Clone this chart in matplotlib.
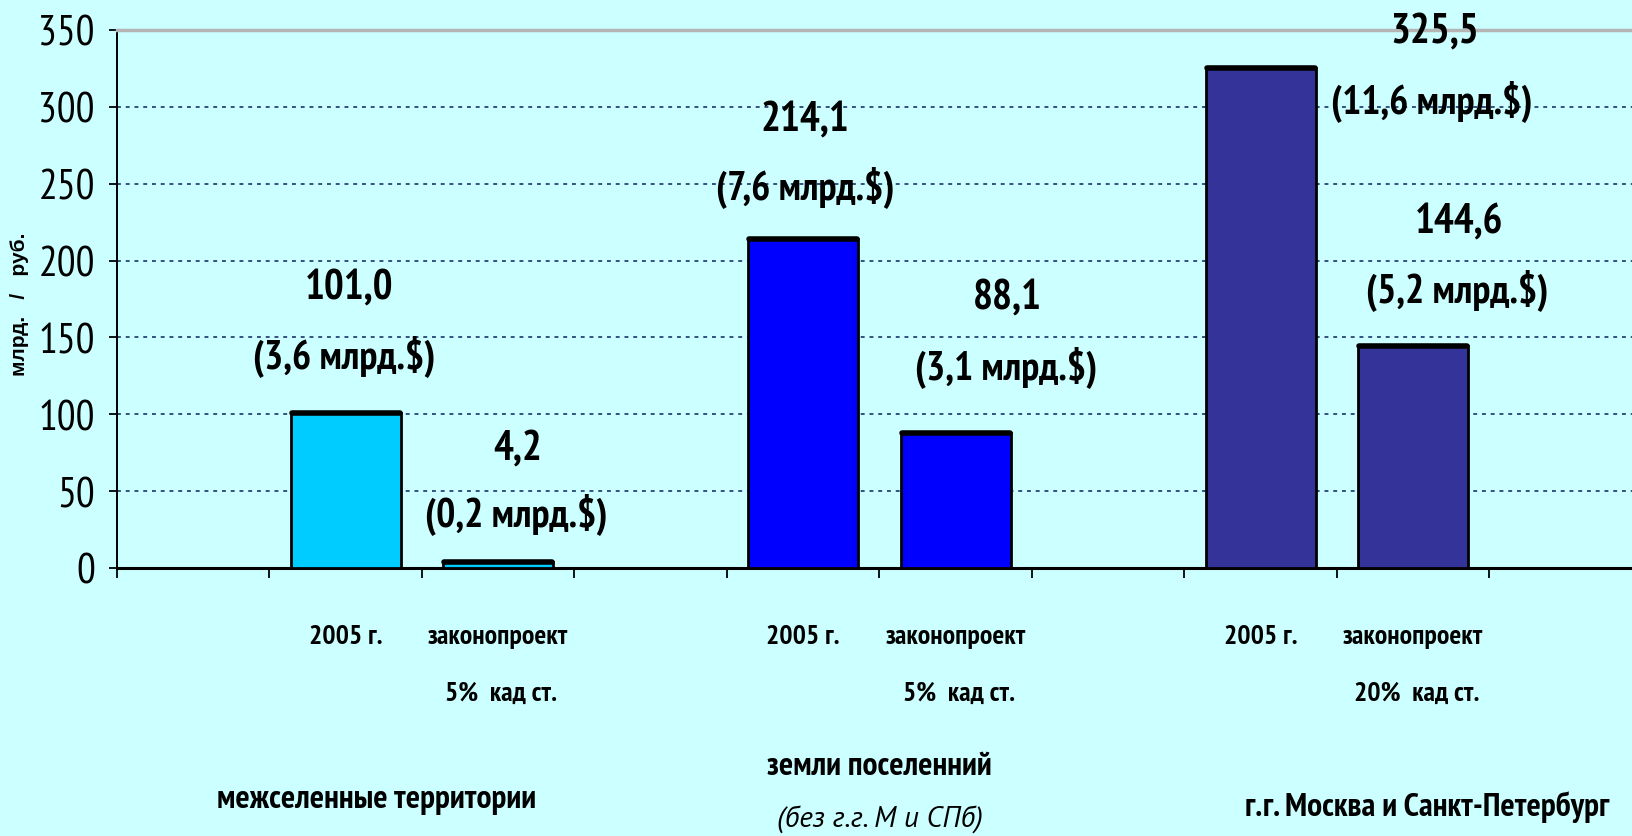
import numpy as np
import matplotlib
matplotlib.use("Agg")
import matplotlib.pyplot as plt

NARROW = ['PT Sans Narrow', 'Fira Sans Condensed', 'Liberation Sans', 'DejaVu Sans']
plt.rcParams['font.family'] = NARROW

# слоты оси X: 0, 3, 6 и 9 пустые
slots = [1, 2, 4, 5, 7, 8]
values = [101.0, 4.2, 214.1, 88.1, 325.5, 144.6]      # млрд. руб.
usd = [3.6, 0.2, 7.6, 3.1, 11.6, 5.2]                  # млрд. $
colors = ['#00CCFF', '#00CCFF', '#0000FF', '#0000FF', '#333399', '#333399']

cat_top = ['2005 г.', 'законопроект'] * 3
cat_bottom = ['', '5%  кад ст.', '', '5%  кад ст.', '', '20%  кад ст.']
groups = ['межселенные территории', 'земли поселенний', 'г.г. Москва и Санкт-Петербург']

# где стоят подписи значений (x слота, y подписи) и подписи в долларах
val_pos = [(1.02, 183), (2.13, 78), (4.01, 292), (5.34, 176), (8.14, 349), (8.30, 225)]
usd_pos = [(0.99, 138), (2.12, 35), (4.01, 248), (5.33, 131), (8.12, 304), (8.29, 181)]

bg = '#CCFFFF'
W, H = 1633, 837
fig = plt.figure(figsize=(W / 100, H / 100), dpi=100, facecolor=bg)
ax = fig.add_axes([117 / W, 1 - 569 / H, 1525 / W, 538 / H], facecolor=bg)

ax.bar(slots, values, width=0.72, color=colors, edgecolor='black', linewidth=2, zorder=3)
# толстая верхняя грань у столбиков
ax.hlines(values, np.array(slots) - 0.355, np.array(slots) + 0.355, color='black', lw=4,
          zorder=4, capstyle='round')

ax.set_xlim(-0.5, 9.5)
ax.set_ylim(0, 350)
ax.set_yticks(np.arange(0, 351, 50))
ax.set_xticks(np.arange(-0.5, 10, 1))
ax.set_xticklabels([])
ax.tick_params(axis='y', length=6, width=1.3, pad=10, labelsize=30, direction='out')
ax.tick_params(axis='x', length=7.5, width=1.3, direction='out')

ax.yaxis.grid(True, linestyle=(0, (2, 2.5)), color='#34507f', lw=1.4)
ax.set_axisbelow(True)

ax.spines['right'].set_visible(False)
ax.spines['top'].set_color('#b5b5b5')
ax.spines['top'].set_linewidth(2.5)
ax.spines['left'].set_linewidth(1.4)
ax.spines['bottom'].set_linewidth(2.2)

# подписи значений
for v, u, (vx, vy), (ux, uy) in zip(values, usd, val_pos, usd_pos):
    ax.text(vx, vy, f"{v:.1f}".replace('.', ','), ha='center', va='center',
            fontsize=30, fontweight='bold', zorder=5)
    ax.text(ux, uy, f"({u:.1f} млрд.$)".replace('.', ',', 1), ha='center', va='center',
            fontsize=29, fontweight='bold', zorder=5)

# подписи категорий под осью
tr = ax.get_xaxis_transform()
for s, t1, t2 in zip(slots, cat_top, cat_bottom):
    ax.text(s, -0.126, t1, transform=tr, ha='center', va='center', fontsize=20, fontweight='bold')
    if t2:
        ax.text(s + 0.02, -0.232, t2, transform=tr, ha='center', va='center',
                fontsize=20, fontweight='bold')

ax.text(1.2, -0.429, groups[0], transform=tr, ha='center', va='center', fontsize=24, fontweight='bold')
ax.text(4.5, -0.368, groups[1], transform=tr, ha='center', va='center', fontsize=24, fontweight='bold')
ax.text(4.5, -0.467, '(без г.г. М и СПб)', transform=tr, ha='center', va='center',
        fontsize=21, fontstyle='italic', family=['PT Sans', 'Liberation Sans', 'DejaVu Sans'])
ax.text(8.09, -0.442, groups[2], transform=tr, ha='center', va='center', fontsize=24, fontweight='bold')

fig.text(20 / W, 1 - 304 / H, 'млрд.   /   руб.', rotation=90, ha='center', va='center',
         fontsize=15, fontweight='bold', family=['Liberation Sans', 'DejaVu Sans'])

fig.savefig('out.png', dpi=100, facecolor=bg)
